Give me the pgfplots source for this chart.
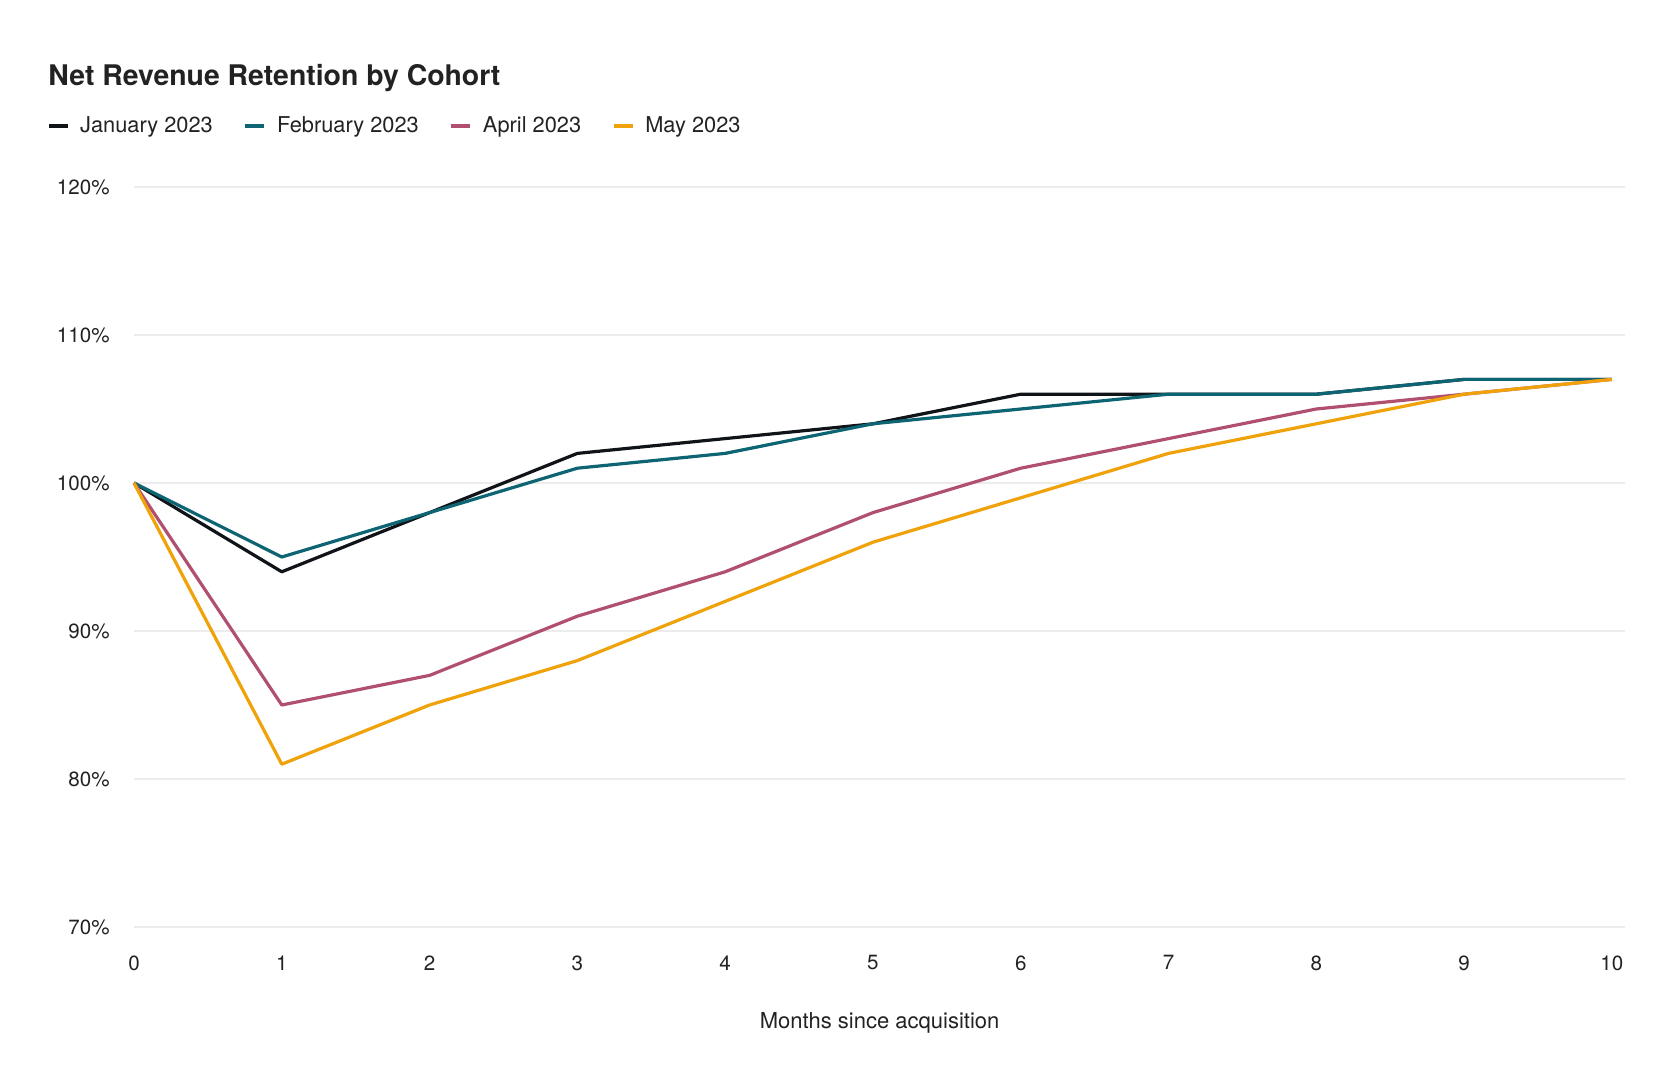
\documentclass[border=0pt]{standalone}
\usepackage{fontspec}
\setmainfont{TeX Gyre Heros}
\usepackage{pgfplots}
\pgfplotsset{compat=1.18}

\definecolor{cjan}{RGB}{16,20,24}
\definecolor{cfeb}{RGB}{13,100,114}
\definecolor{capr}{RGB}{176,80,110}
\definecolor{cmay}{RGB}{240,162,10}
\definecolor{gridc}{RGB}{236,236,236}
\definecolor{txt}{RGB}{34,34,34}

\begin{document}
\begin{tikzpicture}
  \useasboundingbox (-67pt,-76.5pt) rectangle (773pt,463.5pt);
  \begin{axis}[
      scale only axis,
      width=745.6pt, height=370pt,
      xmin=0, xmax=10.09,
      ymin=70, ymax=120,
      xtick={0,1,...,10},
      ytick={70,80,...,120},
      axis line style={draw=none},
      major tick length=0pt,
      ymajorgrids=true,
      grid style={color=gridc, line width=1pt},
      /pgf/number format/assume math mode=true,
      yticklabel={\pgfmathprintnumber{\tick}\%},
      ticklabel style={font=\fontsize{10.3}{12}\selectfont, text=txt},
      yticklabel style={anchor=east, inner sep=0pt, xshift=-12pt},
      xticklabel style={anchor=north, inner sep=0pt, yshift=-14pt},
      xlabel={Months since acquisition},
      xlabel style={at={(axis description cs:0.5,0)}, anchor=base,
        yshift=-51pt, inner sep=0pt, font=\fontsize{11}{13}\selectfont, text=txt},
      clip=false,
      every axis plot/.append style={line width=1.6pt, line join=round},
      legend columns=4,
      legend style={at={(axis description cs:0,1)}, anchor=west,
        xshift=-43.5pt, yshift=30.5pt, draw=none, fill=none,
        inner sep=0pt, outer sep=0pt,
        font=\fontsize{10.9}{12}\selectfont, text=txt,
        nodes={inner sep=0pt},
        /tikz/every odd column/.append style={column sep=5.5pt},
        /tikz/every even column/.append style={column sep=15.5pt}},
      legend image code/.code={\draw[#1, line width=1.6pt] (0pt,0pt) -- (9.5pt,0pt);},
    ]
    \addplot[cjan] coordinates {(0,100)(1,94)(2,98)(3,102)(4,103)(5,104)(6,106)(7,106)(8,106)(9,107)(10,107)};
    \addlegendentry{January 2023}
    \addplot[cfeb] coordinates {(0,100)(1,95)(2,98)(3,101)(4,102)(5,104)(6,105)(7,106)(8,106)(9,107)(10,107)};
    \addlegendentry{February 2023}
    \addplot[capr] coordinates {(0,100)(1,85)(2,87)(3,91)(4,94)(5,98)(6,101)(7,103)(8,105)(9,106)(10,107)};
    \addlegendentry{April 2023}
    \addplot[cmay] coordinates {(0,100)(1,81)(2,85)(3,88)(4,92)(5,96)(6,99)(7,102)(8,104)(9,106)(10,107)};
    \addlegendentry{May 2023}
    \node[anchor=base west, inner sep=0pt, text=txt, font=\bfseries\fontsize{14.2}{17}\selectfont]
      at (axis description cs:0,1) [xshift=-43pt, yshift=50.5pt] {Net Revenue Retention by Cohort};
  \end{axis}
\end{tikzpicture}
\end{document}
